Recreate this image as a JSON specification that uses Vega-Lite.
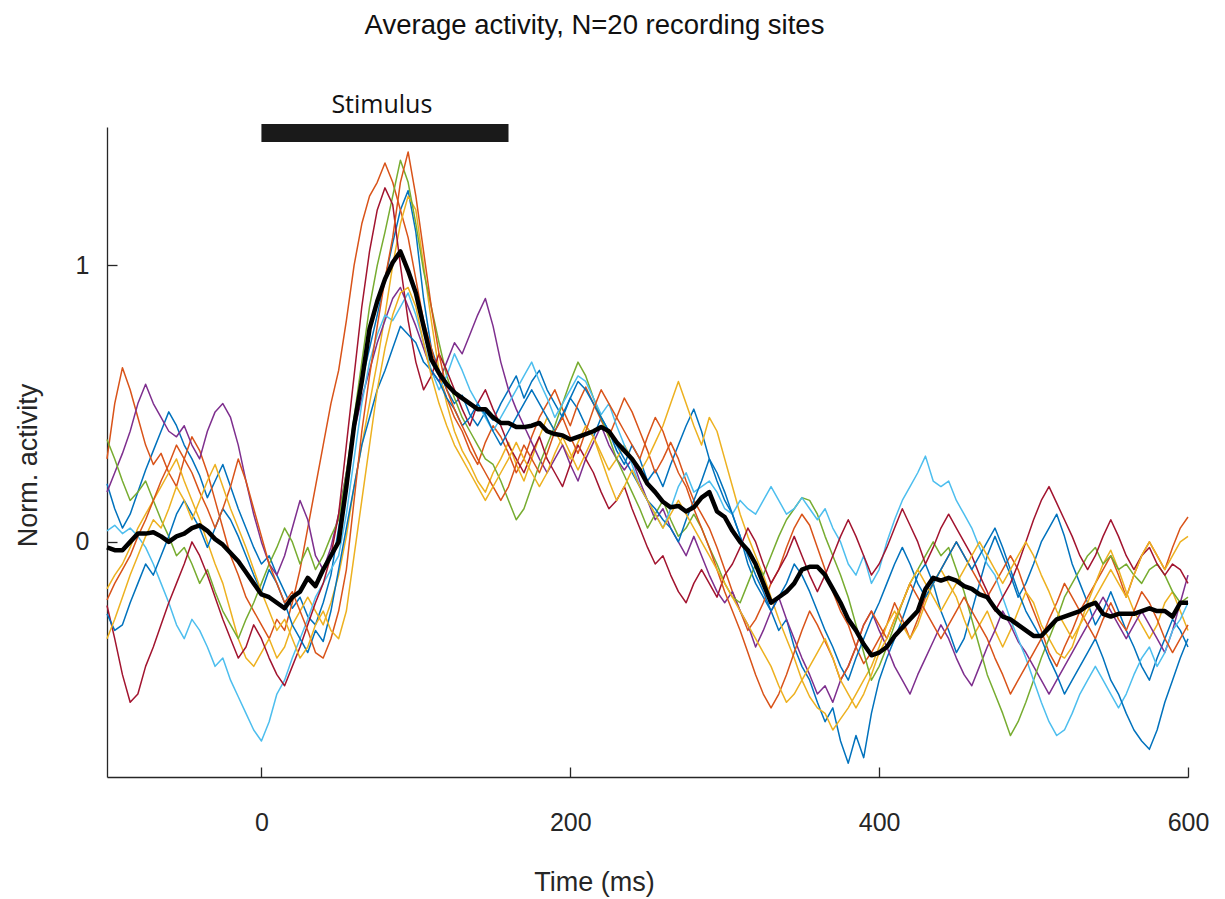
{
"$schema": "https://vega.github.io/schema/vega-lite/v6.json",
"width": 1081,
"height": 650,
"autosize": {"type": "none"},
"padding": {"left": 107, "top": 127, "right": 37, "bottom": 122},
"background": "white",
"config": {"view": {"stroke": null}, "font": "Liberation Sans"},
"title": {"text": "Average activity, N=20 recording sites", "fontSize": 27.5, "fontWeight": "normal", "font": "Liberation Sans", "color": "#111111", "anchor": "middle", "dx": -53, "offset": 53},
"datasets": {
"traces": [
{"t":-100,"b1":0.21,"o1":0.3,"y1":-0.17,"p1":0.18,"g1":0.37,"c1":0.04,"r1":-0.23,"b2":-0.26,"o2":-0.21,"y2":-0.35,"m":-0.02},
{"t":-95,"b1":0.12,"o1":0.5,"y1":-0.12,"p1":0.25,"g1":0.3,"c1":0.06,"r1":-0.35,"b2":-0.32,"o2":-0.15,"y2":-0.28,"m":-0.03},
{"t":-90,"b1":0.05,"o1":0.63,"y1":-0.08,"p1":0.32,"g1":0.22,"c1":0.03,"r1":-0.48,"b2":-0.3,"o2":-0.1,"y2":-0.2,"m":-0.03},
{"t":-85,"b1":0.1,"o1":0.55,"y1":-0.02,"p1":0.4,"g1":0.15,"c1":0.05,"r1":-0.58,"b2":-0.22,"o2":-0.05,"y2":-0.12,"m":0.0},
{"t":-80,"b1":0.18,"o1":0.45,"y1":0.05,"p1":0.5,"g1":0.18,"c1":0.02,"r1":-0.55,"b2":-0.15,"o2":0.02,"y2":-0.05,"m":0.03},
{"t":-75,"b1":0.26,"o1":0.35,"y1":0.1,"p1":0.57,"g1":0.22,"c1":-0.02,"r1":-0.45,"b2":-0.08,"o2":0.08,"y2":0.02,"m":0.03},
{"t":-70,"b1":0.33,"o1":0.28,"y1":0.15,"p1":0.5,"g1":0.15,"c1":-0.08,"r1":-0.38,"b2":-0.12,"o2":0.15,"y2":0.08,"m":0.035},
{"t":-65,"b1":0.4,"o1":0.32,"y1":0.2,"p1":0.45,"g1":0.08,"c1":-0.15,"r1":-0.3,"b2":-0.05,"o2":0.22,"y2":0.05,"m":0.02},
{"t":-60,"b1":0.47,"o1":0.25,"y1":0.25,"p1":0.4,"g1":0.02,"c1":-0.22,"r1":-0.22,"b2":0.02,"o2":0.28,"y2":0.12,"m":0.0},
{"t":-55,"b1":0.42,"o1":0.2,"y1":0.3,"p1":0.38,"g1":-0.05,"c1":-0.3,"r1":-0.15,"b2":0.1,"o2":0.35,"y2":0.2,"m":0.02},
{"t":-50,"b1":0.35,"o1":0.3,"y1":0.22,"p1":0.42,"g1":-0.02,"c1":-0.35,"r1":-0.08,"b2":0.15,"o2":0.3,"y2":0.15,"m":0.03},
{"t":-45,"b1":0.3,"o1":0.38,"y1":0.15,"p1":0.35,"g1":-0.08,"c1":-0.28,"r1":0.0,"b2":0.1,"o2":0.25,"y2":0.08,"m":0.05},
{"t":-40,"b1":0.24,"o1":0.33,"y1":0.08,"p1":0.3,"g1":-0.15,"c1":-0.32,"r1":-0.05,"b2":0.05,"o2":0.18,"y2":0.15,"m":0.06},
{"t":-35,"b1":0.16,"o1":0.25,"y1":0.0,"p1":0.4,"g1":-0.1,"c1":-0.38,"r1":-0.12,"b2":-0.02,"o2":0.12,"y2":0.22,"m":0.04},
{"t":-30,"b1":0.22,"o1":0.15,"y1":-0.08,"p1":0.47,"g1":-0.18,"c1":-0.45,"r1":-0.2,"b2":0.05,"o2":0.05,"y2":0.28,"m":0.01},
{"t":-25,"b1":0.28,"o1":0.05,"y1":-0.15,"p1":0.5,"g1":-0.25,"c1":-0.42,"r1":-0.28,"b2":0.12,"o2":0.12,"y2":0.2,"m":-0.01},
{"t":-20,"b1":0.2,"o1":-0.05,"y1":-0.25,"p1":0.45,"g1":-0.3,"c1":-0.5,"r1":-0.35,"b2":0.08,"o2":0.2,"y2":0.12,"m":-0.04},
{"t":-15,"b1":0.12,"o1":-0.12,"y1":-0.35,"p1":0.35,"g1":-0.35,"c1":-0.56,"r1":-0.42,"b2":0.02,"o2":0.3,"y2":0.05,"m":-0.07},
{"t":-10,"b1":0.05,"o1":-0.2,"y1":-0.42,"p1":0.22,"g1":-0.28,"c1":-0.62,"r1":-0.38,"b2":-0.05,"o2":0.22,"y2":-0.02,"m":-0.11},
{"t":-5,"b1":-0.02,"o1":-0.25,"y1":-0.45,"p1":0.1,"g1":-0.22,"c1":-0.68,"r1":-0.3,"b2":-0.12,"o2":0.12,"y2":-0.1,"m":-0.15},
{"t":0,"b1":-0.08,"o1":-0.3,"y1":-0.4,"p1":0.0,"g1":-0.15,"c1":-0.72,"r1":-0.35,"b2":-0.18,"o2":0.02,"y2":-0.18,"m":-0.19},
{"t":5,"b1":-0.05,"o1":-0.35,"y1":-0.35,"p1":-0.08,"g1":-0.08,"c1":-0.65,"r1":-0.42,"b2":-0.1,"o2":-0.08,"y2":-0.25,"m":-0.2},
{"t":10,"b1":-0.12,"o1":-0.28,"y1":-0.42,"p1":-0.12,"g1":-0.02,"c1":-0.55,"r1":-0.48,"b2":-0.15,"o2":-0.15,"y2":-0.32,"m":-0.22},
{"t":15,"b1":-0.18,"o1":-0.32,"y1":-0.38,"p1":-0.05,"g1":0.05,"c1":-0.5,"r1":-0.52,"b2":-0.22,"o2":-0.22,"y2":-0.28,"m":-0.24},
{"t":20,"b1":-0.24,"o1":-0.22,"y1":-0.3,"p1":0.05,"g1":0.0,"c1":-0.42,"r1":-0.45,"b2":-0.3,"o2":-0.18,"y2":-0.35,"m":-0.2},
{"t":25,"b1":-0.2,"o1":-0.1,"y1":-0.25,"p1":0.15,"g1":-0.08,"c1":-0.35,"r1":-0.38,"b2":-0.35,"o2":-0.25,"y2":-0.42,"m":-0.18},
{"t":30,"b1":-0.27,"o1":0.05,"y1":-0.2,"p1":0.08,"g1":-0.02,"c1":-0.28,"r1":-0.3,"b2":-0.4,"o2":-0.32,"y2":-0.38,"m":-0.13},
{"t":35,"b1":-0.3,"o1":0.2,"y1":-0.25,"p1":-0.05,"g1":-0.1,"c1":-0.2,"r1":-0.22,"b2":-0.32,"o2":-0.4,"y2":-0.3,"m":-0.16},
{"t":40,"b1":-0.22,"o1":0.35,"y1":-0.3,"p1":-0.1,"g1":-0.05,"c1":-0.15,"r1":-0.15,"b2":-0.36,"o2":-0.42,"y2":-0.25,"m":-0.1},
{"t":45,"b1":-0.12,"o1":0.5,"y1":-0.22,"p1":-0.02,"g1":0.02,"c1":-0.1,"r1":-0.05,"b2":-0.25,"o2":-0.35,"y2":-0.32,"m":-0.05},
{"t":50,"b1":0.05,"o1":0.62,"y1":-0.12,"p1":0.1,"g1":0.08,"c1":-0.05,"r1":0.1,"b2":-0.1,"o2":-0.25,"y2":-0.35,"m":0.0},
{"t":55,"b1":0.22,"o1":0.8,"y1":0.02,"p1":0.25,"g1":0.25,"c1":0.1,"r1":0.35,"b2":0.05,"o2":-0.1,"y2":-0.25,"m":0.2},
{"t":60,"b1":0.42,"o1":1.0,"y1":0.2,"p1":0.4,"g1":0.45,"c1":0.3,"r1":0.6,"b2":0.2,"o2":0.15,"y2":-0.05,"m":0.42},
{"t":65,"b1":0.58,"o1":1.15,"y1":0.35,"p1":0.52,"g1":0.65,"c1":0.5,"r1":0.85,"b2":0.35,"o2":0.4,"y2":0.15,"m":0.58},
{"t":70,"b1":0.7,"o1":1.25,"y1":0.5,"p1":0.62,"g1":0.85,"c1":0.65,"r1":1.05,"b2":0.45,"o2":0.6,"y2":0.35,"m":0.77},
{"t":75,"b1":0.82,"o1":1.3,"y1":0.65,"p1":0.72,"g1":1.0,"c1":0.75,"r1":1.2,"b2":0.55,"o2":0.78,"y2":0.55,"m":0.87},
{"t":80,"b1":0.95,"o1":1.37,"y1":0.82,"p1":0.8,"g1":1.12,"c1":0.82,"r1":1.28,"b2":0.62,"o2":0.95,"y2":0.7,"m":0.95},
{"t":85,"b1":1.08,"o1":1.3,"y1":1.0,"p1":0.88,"g1":1.25,"c1":0.8,"r1":1.22,"b2":0.7,"o2":1.1,"y2":0.82,"m":1.01},
{"t":90,"b1":1.2,"o1":1.2,"y1":1.15,"p1":0.92,"g1":1.38,"c1":0.85,"r1":1.0,"b2":0.78,"o2":1.3,"y2":0.9,"m":1.05},
{"t":95,"b1":1.27,"o1":1.1,"y1":1.25,"p1":0.85,"g1":1.3,"c1":0.9,"r1":0.8,"b2":0.75,"o2":1.41,"y2":0.92,"m":0.98},
{"t":100,"b1":1.12,"o1":0.95,"y1":1.2,"p1":0.78,"g1":1.15,"c1":0.82,"r1":0.65,"b2":0.72,"o2":1.25,"y2":0.85,"m":0.9},
{"t":105,"b1":0.88,"o1":0.8,"y1":1.0,"p1":0.7,"g1":0.98,"c1":0.72,"r1":0.55,"b2":0.65,"o2":1.05,"y2":0.72,"m":0.78},
{"t":110,"b1":0.7,"o1":0.7,"y1":0.8,"p1":0.62,"g1":0.85,"c1":0.62,"r1":0.6,"b2":0.62,"o2":0.85,"y2":0.6,"m":0.66},
{"t":115,"b1":0.62,"o1":0.6,"y1":0.62,"p1":0.58,"g1":0.72,"c1":0.55,"r1":0.68,"b2":0.58,"o2":0.68,"y2":0.5,"m":0.61},
{"t":120,"b1":0.55,"o1":0.52,"y1":0.5,"p1":0.65,"g1":0.6,"c1":0.6,"r1":0.62,"b2":0.52,"o2":0.55,"y2":0.42,"m":0.57},
{"t":125,"b1":0.5,"o1":0.45,"y1":0.4,"p1":0.72,"g1":0.52,"c1":0.68,"r1":0.55,"b2":0.48,"o2":0.48,"y2":0.35,"m":0.54},
{"t":130,"b1":0.53,"o1":0.4,"y1":0.33,"p1":0.68,"g1":0.45,"c1":0.62,"r1":0.48,"b2":0.42,"o2":0.42,"y2":0.3,"m":0.52},
{"t":135,"b1":0.46,"o1":0.33,"y1":0.28,"p1":0.75,"g1":0.4,"c1":0.55,"r1":0.42,"b2":0.45,"o2":0.36,"y2":0.25,"m":0.5},
{"t":140,"b1":0.42,"o1":0.28,"y1":0.22,"p1":0.82,"g1":0.35,"c1":0.5,"r1":0.5,"b2":0.5,"o2":0.3,"y2":0.2,"m":0.48},
{"t":145,"b1":0.47,"o1":0.36,"y1":0.18,"p1":0.88,"g1":0.3,"c1":0.45,"r1":0.55,"b2":0.46,"o2":0.25,"y2":0.15,"m":0.48},
{"t":150,"b1":0.44,"o1":0.42,"y1":0.25,"p1":0.78,"g1":0.28,"c1":0.4,"r1":0.48,"b2":0.4,"o2":0.2,"y2":0.2,"m":0.45},
{"t":155,"b1":0.5,"o1":0.38,"y1":0.3,"p1":0.65,"g1":0.22,"c1":0.45,"r1":0.42,"b2":0.35,"o2":0.15,"y2":0.25,"m":0.43},
{"t":160,"b1":0.55,"o1":0.32,"y1":0.36,"p1":0.55,"g1":0.15,"c1":0.5,"r1":0.35,"b2":0.4,"o2":0.2,"y2":0.3,"m":0.43},
{"t":165,"b1":0.6,"o1":0.25,"y1":0.28,"p1":0.48,"g1":0.08,"c1":0.55,"r1":0.3,"b2":0.45,"o2":0.28,"y2":0.36,"m":0.415},
{"t":170,"b1":0.52,"o1":0.3,"y1":0.22,"p1":0.42,"g1":0.12,"c1":0.6,"r1":0.25,"b2":0.5,"o2":0.35,"y2":0.3,"m":0.415},
{"t":175,"b1":0.58,"o1":0.38,"y1":0.3,"p1":0.36,"g1":0.2,"c1":0.65,"r1":0.32,"b2":0.55,"o2":0.3,"y2":0.25,"m":0.42},
{"t":180,"b1":0.62,"o1":0.45,"y1":0.38,"p1":0.3,"g1":0.28,"c1":0.58,"r1":0.38,"b2":0.5,"o2":0.25,"y2":0.2,"m":0.43},
{"t":185,"b1":0.55,"o1":0.5,"y1":0.45,"p1":0.25,"g1":0.35,"c1":0.52,"r1":0.3,"b2":0.45,"o2":0.32,"y2":0.25,"m":0.4},
{"t":190,"b1":0.5,"o1":0.55,"y1":0.4,"p1":0.3,"g1":0.42,"c1":0.45,"r1":0.25,"b2":0.4,"o2":0.4,"y2":0.32,"m":0.39},
{"t":195,"b1":0.45,"o1":0.48,"y1":0.35,"p1":0.35,"g1":0.5,"c1":0.5,"r1":0.2,"b2":0.46,"o2":0.45,"y2":0.38,"m":0.385},
{"t":200,"b1":0.52,"o1":0.42,"y1":0.3,"p1":0.28,"g1":0.58,"c1":0.55,"r1":0.28,"b2":0.52,"o2":0.38,"y2":0.32,"m":0.37},
{"t":205,"b1":0.48,"o1":0.5,"y1":0.36,"p1":0.22,"g1":0.65,"c1":0.6,"r1":0.35,"b2":0.58,"o2":0.32,"y2":0.26,"m":0.38},
{"t":210,"b1":0.42,"o1":0.56,"y1":0.42,"p1":0.3,"g1":0.6,"c1":0.58,"r1":0.3,"b2":0.55,"o2":0.4,"y2":0.32,"m":0.39},
{"t":215,"b1":0.38,"o1":0.5,"y1":0.38,"p1":0.36,"g1":0.52,"c1":0.52,"r1":0.25,"b2":0.5,"o2":0.48,"y2":0.38,"m":0.4},
{"t":220,"b1":0.45,"o1":0.44,"y1":0.32,"p1":0.42,"g1":0.45,"c1":0.46,"r1":0.18,"b2":0.45,"o2":0.55,"y2":0.3,"m":0.415},
{"t":225,"b1":0.4,"o1":0.38,"y1":0.26,"p1":0.35,"g1":0.38,"c1":0.5,"r1":0.12,"b2":0.4,"o2":0.5,"y2":0.22,"m":0.4},
{"t":230,"b1":0.33,"o1":0.45,"y1":0.3,"p1":0.3,"g1":0.3,"c1":0.42,"r1":0.15,"b2":0.35,"o2":0.45,"y2":0.15,"m":0.36},
{"t":235,"b1":0.28,"o1":0.52,"y1":0.35,"p1":0.26,"g1":0.24,"c1":0.35,"r1":0.2,"b2":0.3,"o2":0.4,"y2":0.2,"m":0.33},
{"t":240,"b1":0.35,"o1":0.47,"y1":0.3,"p1":0.3,"g1":0.18,"c1":0.28,"r1":0.12,"b2":0.25,"o2":0.35,"y2":0.26,"m":0.3},
{"t":245,"b1":0.3,"o1":0.4,"y1":0.25,"p1":0.22,"g1":0.12,"c1":0.2,"r1":0.05,"b2":0.2,"o2":0.3,"y2":0.2,"m":0.26},
{"t":250,"b1":0.22,"o1":0.33,"y1":0.3,"p1":0.15,"g1":0.05,"c1":0.15,"r1":-0.02,"b2":0.15,"o2":0.38,"y2":0.15,"m":0.21},
{"t":255,"b1":0.26,"o1":0.25,"y1":0.36,"p1":0.08,"g1":0.1,"c1":0.1,"r1":-0.08,"b2":0.12,"o2":0.45,"y2":0.1,"m":0.18},
{"t":260,"b1":0.2,"o1":0.3,"y1":0.42,"p1":0.12,"g1":0.15,"c1":0.05,"r1":-0.05,"b2":0.08,"o2":0.4,"y2":0.05,"m":0.145},
{"t":265,"b1":0.28,"o1":0.36,"y1":0.5,"p1":0.05,"g1":0.08,"c1":0.12,"r1":-0.12,"b2":0.05,"o2":0.32,"y2":0.1,"m":0.125},
{"t":270,"b1":0.35,"o1":0.3,"y1":0.58,"p1":0.0,"g1":0.02,"c1":0.2,"r1":-0.18,"b2":0.0,"o2":0.25,"y2":0.15,"m":0.13},
{"t":275,"b1":0.42,"o1":0.22,"y1":0.5,"p1":-0.05,"g1":0.05,"c1":0.25,"r1":-0.22,"b2":0.08,"o2":0.2,"y2":0.1,"m":0.11},
{"t":280,"b1":0.48,"o1":0.15,"y1":0.42,"p1":0.02,"g1":0.1,"c1":0.18,"r1":-0.15,"b2":0.15,"o2":0.12,"y2":0.05,"m":0.125},
{"t":285,"b1":0.4,"o1":0.1,"y1":0.35,"p1":-0.05,"g1":0.05,"c1":0.2,"r1":-0.1,"b2":0.22,"o2":0.05,"y2":0.0,"m":0.16},
{"t":290,"b1":0.3,"o1":0.05,"y1":0.45,"p1":-0.12,"g1":-0.02,"c1":0.22,"r1":-0.15,"b2":0.3,"o2":-0.02,"y2":-0.05,"m":0.18},
{"t":295,"b1":0.22,"o1":-0.02,"y1":0.4,"p1":-0.18,"g1":-0.08,"c1":0.18,"r1":-0.2,"b2":0.25,"o2":-0.1,"y2":-0.1,"m":0.11},
{"t":300,"b1":0.15,"o1":-0.1,"y1":0.3,"p1":-0.22,"g1":-0.15,"c1":0.12,"r1":-0.12,"b2":0.18,"o2":-0.18,"y2":-0.15,"m":0.09},
{"t":305,"b1":0.1,"o1":-0.18,"y1":0.2,"p1":-0.18,"g1":-0.2,"c1":0.1,"r1":-0.08,"b2":0.1,"o2":-0.25,"y2":-0.2,"m":0.04},
{"t":310,"b1":0.02,"o1":-0.25,"y1":0.1,"p1":-0.25,"g1":-0.22,"c1":0.15,"r1":-0.02,"b2":0.02,"o2":-0.32,"y2":-0.25,"m":0.0},
{"t":315,"b1":-0.08,"o1":-0.32,"y1":0.02,"p1":-0.3,"g1":-0.15,"c1":0.12,"r1":0.05,"b2":-0.05,"o2":-0.4,"y2":-0.3,"m":-0.03},
{"t":320,"b1":-0.15,"o1":-0.28,"y1":-0.05,"p1":-0.38,"g1":-0.08,"c1":0.1,"r1":0.0,"b2":-0.12,"o2":-0.48,"y2":-0.35,"m":-0.08},
{"t":325,"b1":-0.2,"o1":-0.22,"y1":-0.12,"p1":-0.32,"g1":-0.12,"c1":0.15,"r1":-0.08,"b2":-0.18,"o2":-0.55,"y2":-0.4,"m":-0.15},
{"t":330,"b1":-0.25,"o1":-0.15,"y1":-0.2,"p1":-0.25,"g1":-0.05,"c1":0.2,"r1":-0.15,"b2":-0.25,"o2":-0.6,"y2":-0.45,"m":-0.22},
{"t":335,"b1":-0.32,"o1":-0.1,"y1":-0.28,"p1":-0.2,"g1":0.02,"c1":0.15,"r1":-0.1,"b2":-0.2,"o2":-0.55,"y2":-0.52,"m":-0.2},
{"t":340,"b1":-0.28,"o1":-0.02,"y1":-0.35,"p1":-0.28,"g1":0.08,"c1":0.1,"r1":-0.05,"b2":-0.15,"o2":-0.48,"y2":-0.58,"m":-0.18},
{"t":345,"b1":-0.38,"o1":0.05,"y1":-0.42,"p1":-0.35,"g1":0.12,"c1":0.12,"r1":0.02,"b2":-0.08,"o2":-0.4,"y2":-0.55,"m":-0.15},
{"t":350,"b1":-0.45,"o1":0.1,"y1":-0.5,"p1":-0.42,"g1":0.16,"c1":0.16,"r1":-0.05,"b2":-0.12,"o2":-0.32,"y2":-0.5,"m":-0.1},
{"t":355,"b1":-0.5,"o1":0.06,"y1":-0.56,"p1":-0.48,"g1":0.15,"c1":0.12,"r1":-0.12,"b2":-0.18,"o2":-0.25,"y2":-0.45,"m":-0.09},
{"t":360,"b1":-0.58,"o1":-0.02,"y1":-0.6,"p1":-0.55,"g1":0.1,"c1":0.08,"r1":-0.18,"b2":-0.25,"o2":-0.3,"y2":-0.4,"m":-0.09},
{"t":365,"b1":-0.65,"o1":-0.1,"y1":-0.62,"p1":-0.52,"g1":0.02,"c1":0.12,"r1":-0.12,"b2":-0.32,"o2":-0.36,"y2":-0.35,"m":-0.12},
{"t":370,"b1":-0.6,"o1":-0.18,"y1":-0.68,"p1":-0.58,"g1":-0.05,"c1":0.05,"r1":-0.05,"b2":-0.38,"o2":-0.42,"y2":-0.42,"m":-0.17},
{"t":375,"b1":-0.72,"o1":-0.25,"y1":-0.64,"p1":-0.5,"g1":-0.12,"c1":0.0,"r1":0.02,"b2":-0.45,"o2":-0.5,"y2":-0.5,"m":-0.22},
{"t":380,"b1":-0.8,"o1":-0.3,"y1":-0.6,"p1":-0.45,"g1":-0.2,"c1":-0.08,"r1":0.08,"b2":-0.5,"o2":-0.45,"y2":-0.55,"m":-0.28},
{"t":385,"b1":-0.7,"o1":-0.38,"y1":-0.55,"p1":-0.38,"g1":-0.3,"c1":-0.12,"r1":0.02,"b2":-0.42,"o2":-0.38,"y2":-0.6,"m":-0.32},
{"t":390,"b1":-0.78,"o1":-0.44,"y1":-0.5,"p1":-0.3,"g1":-0.4,"c1":-0.05,"r1":-0.05,"b2":-0.35,"o2":-0.3,"y2":-0.55,"m":-0.37},
{"t":395,"b1":-0.62,"o1":-0.4,"y1":-0.45,"p1":-0.25,"g1":-0.5,"c1":-0.15,"r1":-0.12,"b2":-0.28,"o2":-0.25,"y2":-0.48,"m":-0.41},
{"t":400,"b1":-0.5,"o1":-0.35,"y1":-0.38,"p1":-0.32,"g1":-0.45,"c1":-0.1,"r1":-0.08,"b2":-0.22,"o2":-0.3,"y2":-0.4,"m":-0.4},
{"t":405,"b1":-0.42,"o1":-0.3,"y1":-0.3,"p1":-0.38,"g1":-0.38,"c1":0.0,"r1":-0.02,"b2":-0.15,"o2":-0.35,"y2":-0.35,"m":-0.38},
{"t":410,"b1":-0.35,"o1":-0.22,"y1":-0.25,"p1":-0.45,"g1":-0.3,"c1":0.08,"r1":0.05,"b2":-0.08,"o2":-0.28,"y2":-0.28,"m":-0.34},
{"t":415,"b1":-0.28,"o1":-0.28,"y1":-0.3,"p1":-0.5,"g1":-0.22,"c1":0.15,"r1":0.12,"b2":-0.02,"o2":-0.22,"y2":-0.22,"m":-0.31},
{"t":420,"b1":-0.2,"o1":-0.35,"y1":-0.35,"p1":-0.55,"g1":-0.15,"c1":0.2,"r1":0.06,"b2":-0.08,"o2":-0.15,"y2":-0.15,"m":-0.28},
{"t":425,"b1":-0.12,"o1":-0.28,"y1":-0.3,"p1":-0.48,"g1":-0.1,"c1":0.25,"r1":0.0,"b2":-0.15,"o2":-0.2,"y2":-0.1,"m":-0.25},
{"t":430,"b1":-0.08,"o1":-0.2,"y1":-0.22,"p1":-0.42,"g1":-0.05,"c1":0.31,"r1":-0.08,"b2":-0.2,"o2":-0.25,"y2":-0.15,"m":-0.17},
{"t":435,"b1":-0.15,"o1":-0.15,"y1":-0.15,"p1":-0.36,"g1":0.0,"c1":0.22,"r1":-0.02,"b2":-0.15,"o2":-0.3,"y2":-0.2,"m":-0.13},
{"t":440,"b1":-0.25,"o1":-0.1,"y1":-0.1,"p1":-0.3,"g1":-0.05,"c1":0.2,"r1":0.05,"b2":-0.1,"o2":-0.35,"y2":-0.25,"m":-0.14},
{"t":445,"b1":-0.32,"o1":-0.05,"y1":-0.15,"p1":-0.35,"g1":-0.02,"c1":0.22,"r1":0.1,"b2":-0.05,"o2":-0.3,"y2":-0.2,"m":-0.13},
{"t":450,"b1":-0.4,"o1":0.0,"y1":-0.2,"p1":-0.42,"g1":-0.1,"c1":0.15,"r1":0.05,"b2":0.0,"o2":-0.25,"y2":-0.15,"m":-0.14},
{"t":455,"b1":-0.35,"o1":-0.05,"y1":-0.28,"p1":-0.48,"g1":-0.18,"c1":0.1,"r1":0.0,"b2":-0.05,"o2":-0.2,"y2":-0.1,"m":-0.16},
{"t":460,"b1":-0.25,"o1":-0.1,"y1":-0.35,"p1":-0.52,"g1":-0.28,"c1":0.05,"r1":-0.05,"b2":-0.1,"o2":-0.25,"y2":-0.05,"m":-0.17},
{"t":465,"b1":-0.15,"o1":-0.15,"y1":-0.3,"p1":-0.45,"g1":-0.38,"c1":-0.02,"r1":-0.12,"b2":-0.05,"o2":-0.3,"y2":0.0,"m":-0.19},
{"t":470,"b1":-0.05,"o1":-0.2,"y1":-0.25,"p1":-0.38,"g1":-0.48,"c1":-0.08,"r1":-0.18,"b2":0.0,"o2":-0.35,"y2":-0.05,"m":-0.2},
{"t":475,"b1":0.02,"o1":-0.15,"y1":-0.32,"p1":-0.32,"g1":-0.55,"c1":-0.12,"r1":-0.25,"b2":0.05,"o2":-0.42,"y2":-0.1,"m":-0.24},
{"t":480,"b1":-0.05,"o1":-0.1,"y1":-0.38,"p1":-0.25,"g1":-0.62,"c1":-0.2,"r1":-0.2,"b2":-0.02,"o2":-0.48,"y2":-0.15,"m":-0.27},
{"t":485,"b1":-0.12,"o1":-0.05,"y1":-0.32,"p1":-0.3,"g1":-0.7,"c1":-0.28,"r1":-0.15,"b2":-0.1,"o2":-0.55,"y2":-0.1,"m":-0.28},
{"t":490,"b1":-0.2,"o1":-0.1,"y1":-0.25,"p1":-0.36,"g1":-0.65,"c1":-0.35,"r1":-0.08,"b2":-0.18,"o2":-0.5,"y2":-0.05,"m":-0.3},
{"t":495,"b1":-0.15,"o1":-0.18,"y1":-0.18,"p1":-0.4,"g1":-0.58,"c1":-0.42,"r1":0.0,"b2":-0.25,"o2":-0.45,"y2":0.0,"m":-0.32},
{"t":500,"b1":-0.08,"o1":-0.25,"y1":-0.22,"p1":-0.45,"g1":-0.5,"c1":-0.5,"r1":0.08,"b2":-0.3,"o2":-0.4,"y2":-0.05,"m":-0.34},
{"t":505,"b1":0.0,"o1":-0.32,"y1":-0.3,"p1":-0.5,"g1":-0.42,"c1":-0.58,"r1":0.15,"b2":-0.35,"o2":-0.35,"y2":-0.12,"m":-0.34},
{"t":510,"b1":0.05,"o1":-0.4,"y1":-0.35,"p1":-0.55,"g1":-0.35,"c1":-0.65,"r1":0.2,"b2":-0.42,"o2":-0.28,"y2":-0.18,"m":-0.31},
{"t":515,"b1":0.1,"o1":-0.45,"y1":-0.4,"p1":-0.5,"g1":-0.28,"c1":-0.7,"r1":0.14,"b2":-0.48,"o2":-0.22,"y2":-0.25,"m":-0.28},
{"t":520,"b1":0.02,"o1":-0.38,"y1":-0.42,"p1":-0.45,"g1":-0.2,"c1":-0.68,"r1":0.08,"b2":-0.55,"o2":-0.15,"y2":-0.3,"m":-0.27},
{"t":525,"b1":-0.08,"o1":-0.32,"y1":-0.38,"p1":-0.4,"g1":-0.15,"c1":-0.62,"r1":0.02,"b2":-0.5,"o2":-0.2,"y2":-0.35,"m":-0.26},
{"t":530,"b1":-0.15,"o1":-0.25,"y1":-0.3,"p1":-0.35,"g1":-0.1,"c1":-0.55,"r1":-0.05,"b2":-0.45,"o2":-0.25,"y2":-0.3,"m":-0.25},
{"t":535,"b1":-0.22,"o1":-0.2,"y1":-0.22,"p1":-0.3,"g1":-0.05,"c1":-0.5,"r1":-0.1,"b2":-0.4,"o2":-0.3,"y2":-0.25,"m":-0.23},
{"t":540,"b1":-0.3,"o1":-0.15,"y1":-0.15,"p1":-0.25,"g1":-0.02,"c1":-0.45,"r1":-0.05,"b2":-0.35,"o2":-0.35,"y2":-0.2,"m":-0.22},
{"t":545,"b1":-0.25,"o1":-0.1,"y1":-0.08,"p1":-0.2,"g1":-0.08,"c1":-0.5,"r1":0.02,"b2":-0.42,"o2":-0.28,"y2":-0.15,"m":-0.26},
{"t":550,"b1":-0.18,"o1":-0.05,"y1":-0.03,"p1":-0.25,"g1":-0.05,"c1":-0.55,"r1":0.08,"b2":-0.5,"o2":-0.22,"y2":-0.1,"m":-0.27},
{"t":555,"b1":-0.25,"o1":-0.12,"y1":-0.1,"p1":-0.3,"g1":-0.1,"c1":-0.6,"r1":0.02,"b2":-0.55,"o2":-0.28,"y2":-0.15,"m":-0.26},
{"t":560,"b1":-0.32,"o1":-0.2,"y1":-0.18,"p1":-0.35,"g1":-0.08,"c1":-0.55,"r1":-0.05,"b2":-0.62,"o2":-0.32,"y2":-0.2,"m":-0.26},
{"t":565,"b1":-0.38,"o1":-0.12,"y1":-0.25,"p1":-0.3,"g1":-0.12,"c1":-0.48,"r1":-0.1,"b2":-0.68,"o2":-0.25,"y2":-0.12,"m":-0.26},
{"t":570,"b1":-0.45,"o1":-0.05,"y1":-0.3,"p1":-0.25,"g1":-0.15,"c1":-0.42,"r1":-0.05,"b2":-0.72,"o2":-0.18,"y2":-0.05,"m":-0.25},
{"t":575,"b1":-0.5,"o1":0.0,"y1":-0.35,"p1":-0.3,"g1":-0.1,"c1":-0.38,"r1":-0.02,"b2":-0.75,"o2":-0.22,"y2":0.0,"m":-0.24},
{"t":580,"b1":-0.42,"o1":-0.05,"y1":-0.3,"p1":-0.35,"g1":-0.08,"c1":-0.45,"r1":-0.08,"b2":-0.68,"o2":-0.28,"y2":-0.05,"m":-0.25},
{"t":585,"b1":-0.35,"o1":-0.1,"y1":-0.22,"p1":-0.4,"g1":-0.12,"c1":-0.4,"r1":-0.12,"b2":-0.58,"o2":-0.35,"y2":-0.1,"m":-0.25},
{"t":590,"b1":-0.28,"o1":-0.02,"y1":-0.18,"p1":-0.32,"g1":-0.18,"c1":-0.32,"r1":-0.08,"b2":-0.5,"o2":-0.4,"y2":-0.05,"m":-0.27},
{"t":595,"b1":-0.32,"o1":0.05,"y1":-0.25,"p1":-0.22,"g1":-0.22,"c1":-0.28,"r1":-0.1,"b2":-0.42,"o2":-0.35,"y2":0.0,"m":-0.22},
{"t":600,"b1":-0.38,"o1":0.09,"y1":-0.32,"p1":-0.12,"g1":-0.2,"c1":-0.22,"r1":-0.15,"b2":-0.35,"o2":-0.3,"y2":0.02,"m":-0.22}
],
"stimulus": [{"start": 0, "end": 160, "lo": 1.446, "hi": 1.511, "label": "Stimulus", "mid": 78, "ly": 1.551}]
},
"layer": [
{
"data": {"name": "traces"},
"transform": [{"fold": ["b1","o1","y1","p1","g1","c1","r1","b2","o2","y2"], "as": ["site","v"]}],
"mark": {"type": "line", "strokeWidth": 1.5, "strokeJoin": "round"},
"encoding": {
"x": {"field": "t", "type": "quantitative", "title": "Time (ms)",
"scale": {"domain": [-100, 600], "nice": false, "zero": false},
"axis": {"values": [0, 200, 400, 600], "format": "d", "grid": false, "tickSize": -10, "tickWidth": 1.3, "tickColor": "#262626", "domainColor": "#262626", "domainWidth": 1.3, "labelFont": "Liberation Sans", "labelFontSize": 25, "labelColor": "#262626", "labelPadding": 43, "labelFlush": false, "titleFont": "Liberation Sans", "titleFontSize": 27, "titleFontWeight": "normal", "titleColor": "#262626", "titleX": 487, "titleY": 113, "titleAlign": "center", "titleBaseline": "alphabetic"}},
"y": {"field": "v", "type": "quantitative", "title": "Norm. activity",
"scale": {"domain": [-0.85, 1.5], "nice": false, "zero": false},
"axis": {"values": [0, 1], "format": "d", "grid": false, "tickSize": -10, "tickWidth": 1.3, "tickColor": "#262626", "domainColor": "#262626", "domainWidth": 1.3, "labelFont": "Liberation Sans", "labelFontSize": 25, "labelColor": "#262626", "labelPadding": 28, "labelFlush": false, "titleFont": "Liberation Sans", "titleFontSize": 27, "titleFontWeight": "normal", "titleColor": "#262626", "titleX": -79, "titleY": 338, "titleAlign": "center", "titleBaseline": "middle", "titleAngle": 270}},
"color": {"field": "site", "type": "nominal", "legend": null,
"scale": {"domain": ["b1","o1","y1","p1","g1","c1","r1","b2","o2","y2"], "range": ["#0072BD","#D95319","#EDB120","#7E2F8E","#77AC30","#4DBEEE","#A2142F","#0072BD","#D95319","#EDB120"]}}
}
},
{
"data": {"name": "traces"},
"mark": {"type": "line", "color": "#000000", "strokeWidth": 4.5, "strokeJoin": "round"},
"encoding": {
"x": {"field": "t", "type": "quantitative", "title": "Time (ms)"},
"y": {"field": "m", "type": "quantitative", "title": "Norm. activity"}
}
},
{
"data": {"name": "stimulus"},
"mark": {"type": "rect", "color": "#1a1a1a"},
"encoding": {
"x": {"field": "start", "type": "quantitative", "title": "Time (ms)"},
"x2": {"field": "end"},
"y": {"field": "lo", "type": "quantitative", "title": "Norm. activity"},
"y2": {"field": "hi"}
}
},
{
"data": {"name": "stimulus"},
"mark": {"type": "text", "font": "Open Sans", "fontSize": 25, "align": "center", "baseline": "alphabetic", "color": "#111111"},
"encoding": {
"x": {"field": "mid", "type": "quantitative", "title": "Time (ms)"},
"y": {"field": "ly", "type": "quantitative", "title": "Norm. activity"},
"text": {"field": "label"}
}
}
]
}
